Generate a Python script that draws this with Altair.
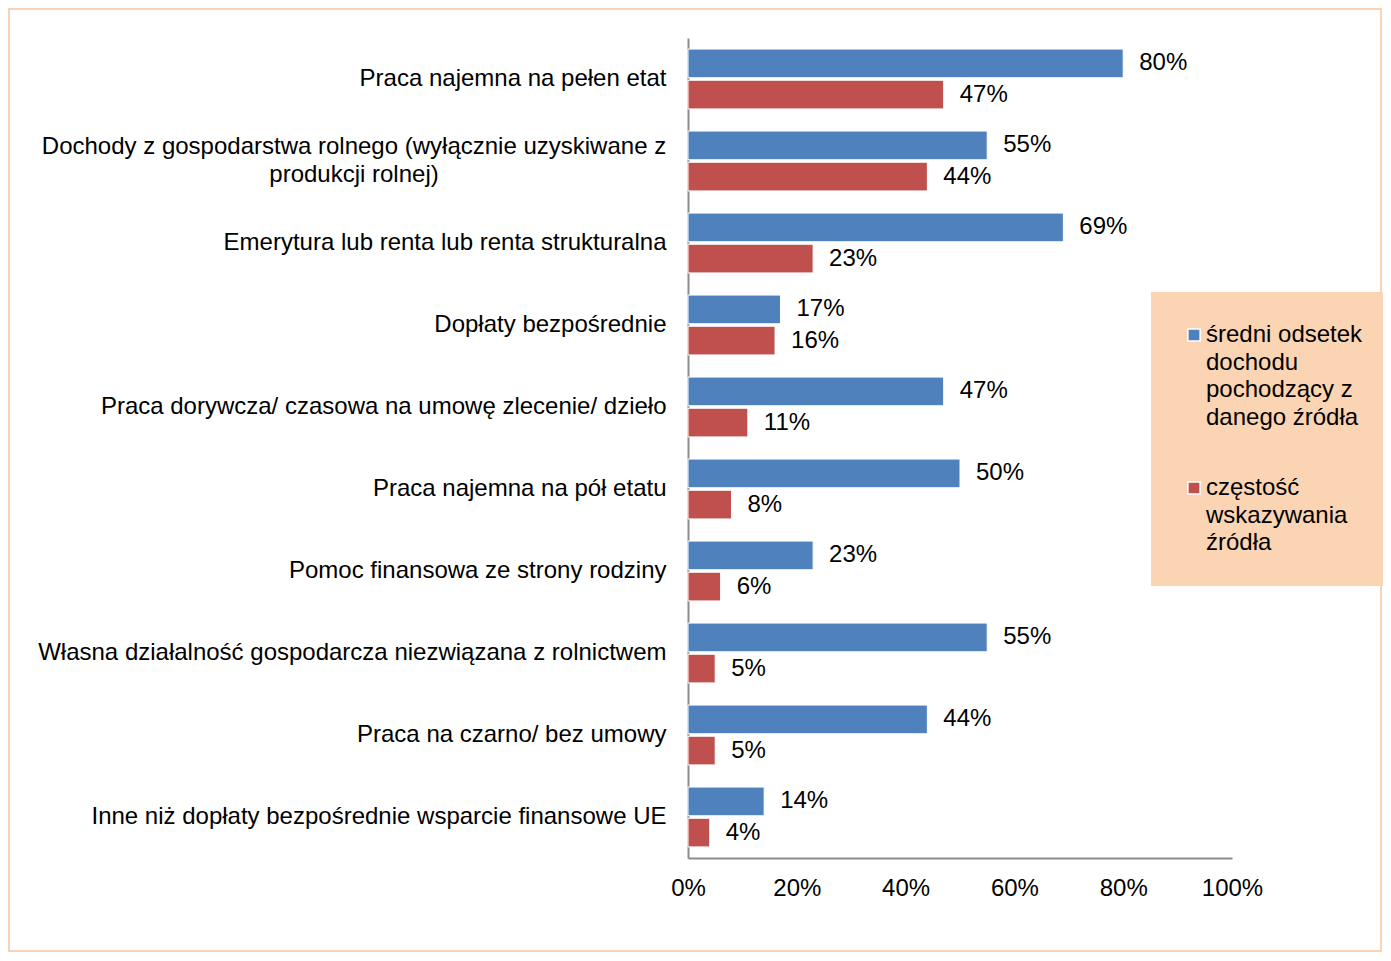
import json
import altair as alt
import pandas as pd

categories = [
    "Praca najemna na pełen etat",
    "Dochody z gospodarstwa rolnego (wyłącznie uzyskiwane z produkcji rolnej)",
    "Emerytura lub renta lub renta strukturalna",
    "Dopłaty bezpośrednie",
    "Praca dorywcza/ czasowa na umowę zlecenie/ dzieło",
    "Praca najemna na pół etatu",
    "Pomoc finansowa ze strony rodziny",
    "Własna działalność gospodarcza niezwiązana z rolnictwem",
    "Praca na czarno/ bez umowy\u00a0",
    "Inne niż dopłaty bezpośrednie wsparcie finansowe UE",
]
series = [
    "średni odsetek dochodu pochodzący z danego źródła",
    "częstość wskazywania źródła",
]
avg_share = [80, 55, 69, 17, 47, 50, 23, 55, 44, 14]
frequency = [47, 44, 23, 16, 11, 8, 6, 5, 5, 4]
colors = ["#4F81BD", "#C0504D"]
wrapped_category = categories[1]
wrapped_text = "Dochody z gospodarstwa rolnego (wyłącznie uzyskiwane z\nprodukcji rolnej)"
legend_lines = [
    ["średni odsetek", "dochodu", "pochodzący z", "danego źródła"],
    ["częstość", "wskazywania", "źródła"],
]

FONT = "Liberation Sans, Arial, sans-serif"
FS = 24

rows = []
for c, a, f in zip(categories, avg_share, frequency):
    rows.append({"category": c, "series": series[0], "value": a / 100, "label": f"{a}%"})
    rows.append({"category": c, "series": series[1], "value": f / 100, "label": f"{f}%"})
df = pd.DataFrame(rows)

legend_expr = " : ".join(
    [f"datum.label == {json.dumps(s)} ? {json.dumps(l)}" for s, l in zip(series, legend_lines)]
) + " : datum.label"

y_enc = alt.Y(
    "category:N",
    sort=categories,
    scale=alt.Scale(paddingInner=0.27, paddingOuter=0.135),
    axis=alt.Axis(
        title=None,
        labelExpr=f"datum.label == {json.dumps(wrapped_category)} ? '' : datum.label",
        labelFontSize=FS,
        labelFont=FONT,
        labelColor="black",
        labelPadding=22,
        labelLimit=800,
        ticks=False,
        domainColor="#8C8C8C",
        domainWidth=2,
        grid=False,
    ),
)
yoff_enc = alt.YOffset("series:N", sort=series, scale=alt.Scale(paddingInner=0.08, paddingOuter=0))
x_enc = alt.X(
    "value:Q",
    scale=alt.Scale(domain=[0, 1]),
    axis=alt.Axis(
        title=None,
        format="%",
        values=[0, 0.2, 0.4, 0.6, 0.8, 1.0],
        labelFontSize=FS,
        labelFont=FONT,
        labelColor="black",
        labelPadding=18,
        labelFlush=False,
        labelOverlap=False,
        ticks=False,
        grid=False,
        domainColor="#8C8C8C",
        domainWidth=2,
    ),
)

base = alt.Chart(df).encode(y=y_enc, yOffset=yoff_enc)

bars = base.mark_bar(stroke="white", strokeWidth=1).encode(
    x=x_enc,
    color=alt.Color(
        "series:N",
        sort=series,
        scale=alt.Scale(domain=series, range=colors),
        legend=alt.Legend(
            title=None,
            orient="none",
            legendX=463,
            legendY=254,
            fillColor="#FBD4B4",
            padding=31,
            symbolType="square",
            symbolSize=150,
            symbolStrokeColor="white",
            symbolStrokeWidth=1.5,
            labelFontSize=FS,
            labelFont=FONT,
            labelColor="black",
            labelLimit=400,
            labelOffset=0,
            rowPadding=46,
            labelExpr=legend_expr,
        ),
    ),
)

labels = base.mark_text(
    align="left", baseline="middle", dx=16, fontSize=FS, font=FONT, color="black"
).encode(x="value:Q", text="label:N")

wrap_df = pd.DataFrame({"category": [wrapped_category], "text": [wrapped_text]})
wrap_label = alt.Chart(wrap_df).mark_text(
    align="center", baseline="middle", lineBreak="\n", fontSize=FS, font=FONT,
    color="black", lineHeight=28, dy=-14,
).encode(
    y=alt.Y("category:N", sort=categories),
    x=alt.value(-334),
    text="text:N",
)

border = alt.Chart(pd.DataFrame({"a": [0]})).mark_rect(
    fillOpacity=0, stroke="#FAD3B4", strokeWidth=2
).encode(x=alt.value(-679), x2=alt.value(693), y=alt.value(-29), y2=alt.value(913))

chart = (
    alt.layer(border, bars, labels, wrap_label)
    .properties(
        width=544,
        height=820,
        padding={"left": 680, "top": 30, "right": 151, "bottom": 95},
        autosize=alt.AutoSizeParams(type="none"),
        background="white",
    )
    .configure(style={"guide-label": {"lineHeight": 27.5}})
    .configure_view(stroke=None)
)

chart.save("out.html", embed_options={"renderer": "svg", "actions": False})
